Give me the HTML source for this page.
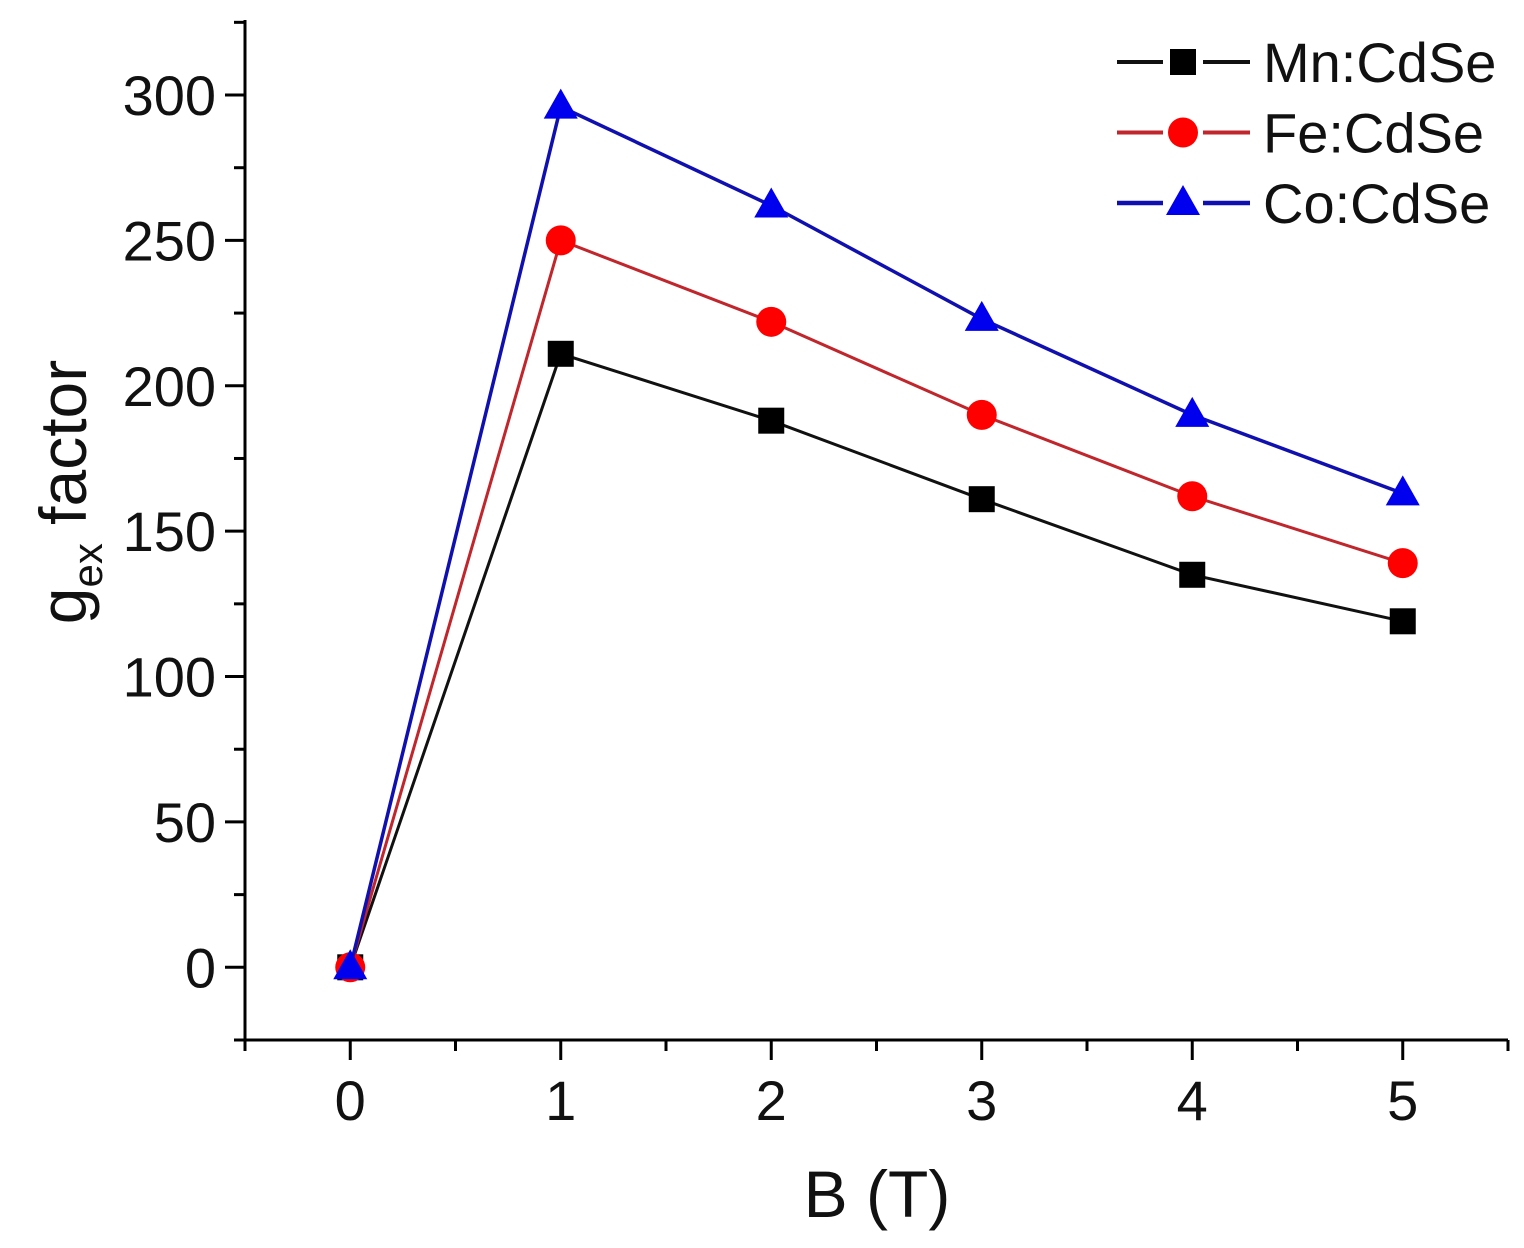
<!DOCTYPE html>
<html><head><meta charset="utf-8"><style>
html,body{margin:0;padding:0;background:#fff;}
svg{display:block;font-family:"Liberation Sans",sans-serif;}
</style></head><body>
<svg id="chart" width="1524" height="1248"></svg>
<script>
const categories=[0,1,2,3,4,5];
const seriesNames=["Mn:CdSe","Fe:CdSe","Co:CdSe"];
const mnValues=[0,211,188,161,135,119];
const feValues=[0,250,222,190,162,139];
const coValues=[0,296,262,223,190,163];
const xTickLabels=["0","1","2","3","4","5"];
const yTickLabels=["0","50","100","150","200","250","300"];

const NS="http://www.w3.org/2000/svg";
const svg=document.getElementById('chart');
const X0=245,X1=1508,Y0=1040,Y1=20;
const xMin=-0.5,xMax=5.5,yMin=-25,yMax=325.8;
function sx(v){return X0+(v-xMin)/(xMax-xMin)*(X1-X0);}
function sy(v){return Y0-(v-yMin)/(yMax-yMin)*(Y0-Y1);}
function mk(tag,attrs,parent){const e=document.createElementNS(NS,tag);for(const k in attrs)e.setAttribute(k,attrs[k]);(parent||svg).appendChild(e);return e;}

const axes=mk('g',{});


const xa=mk('line',{x1:X0-1,y1:Y0,x2:X1,y2:Y0,stroke:'#000','stroke-width':3},axes);


const ya=mk('line',{x1:X0,y1:Y0+1,x2:X0,y2:Y1,stroke:'#000','stroke-width':3},axes);


for(let v=-0.5;v<=5.5001;v+=0.5){
  const major=Math.abs(v-Math.round(v))<1e-6;
  mk('line',{x1:sx(v),y1:Y0,x2:sx(v),y2:Y0+(major?20:11),stroke:'#000','stroke-width':3},axes);
}
categories.forEach((c,i)=>{
  const t=mk('text',{x:sx(c),y:1120,'font-size':56,'text-anchor':'middle',fill:'#111'});
  t.textContent=xTickLabels[i];
  
  
});
for(let v=-25;v<=325;v+=25){
  const major=v%50===0;
  mk('line',{x1:X0,y1:sy(v),x2:X0-(major?20:11),y2:sy(v),stroke:'#000','stroke-width':3},axes);
}
yTickLabels.forEach(l=>{
  const t=mk('text',{x:216,y:sy(+l)+20,'font-size':56,'text-anchor':'end',fill:'#111'});
  t.textContent=l;
  
  
});
const xt=mk('text',{x:877,y:1217,'font-size':66,'text-anchor':'middle',fill:'#111'});
xt.textContent='B (T)';


const yt=mk('text',{transform:'translate(86,492) rotate(-90)','font-size':66,'text-anchor':'middle',fill:'#111'});
yt.innerHTML='g<tspan font-size="42" dy="16">ex</tspan><tspan dy="-16"> factor</tspan>';



function marker(type,x,y,color,g){
  if(type==='square') return mk('rect',{x:x-13,y:y-13,width:26,height:26,fill:color},g);
  if(type==='circle') return mk('circle',{cx:x,cy:y,r:15,fill:color},g);
  return mk('polygon',{points:`${x},${y-18} ${x-17},${y+12} ${x+17},${y+12}`,fill:color},g);
}
const series=[
 {name:'mn',vals:mnValues,color:'#000',line:'#111',type:'square',w:3},
 {name:'fe',vals:feValues,color:'#f00',line:'#c0262b',type:'circle',w:3},
 {name:'co',vals:coValues,color:'#0000ee',line:'#1010b0',type:'triangle',w:3.5}
];
series.forEach((s,si)=>{
  const g=mk('g',{});
  
  
  const pts=categories.map((c,i)=>sx(c)+','+sy(s.vals[i])).join(' ');
  const pl=mk('polyline',{points:pts,fill:'none',stroke:s.line,'stroke-width':s.w},g);
  
  
  categories.forEach((c,i)=>{
    const m=marker(s.type,sx(c),sy(s.vals[i]),s.color,g);
    
    
  });
  const ly=62+si*70.5;
  const lg=mk('g',{});
  
  
  mk('line',{x1:1117,y1:ly,x2:1163,y2:ly,stroke:s.line,'stroke-width':s.w+1},lg);
  mk('line',{x1:1203,y1:ly,x2:1250,y2:ly,stroke:s.line,'stroke-width':s.w+1},lg);
  marker(s.type,1183,ly,s.color,lg);
  const t=mk('text',{x:1263,y:ly+20,'font-size':56,fill:'#111'},lg);
  t.textContent=seriesNames[si];
});
</script>
</body></html>
